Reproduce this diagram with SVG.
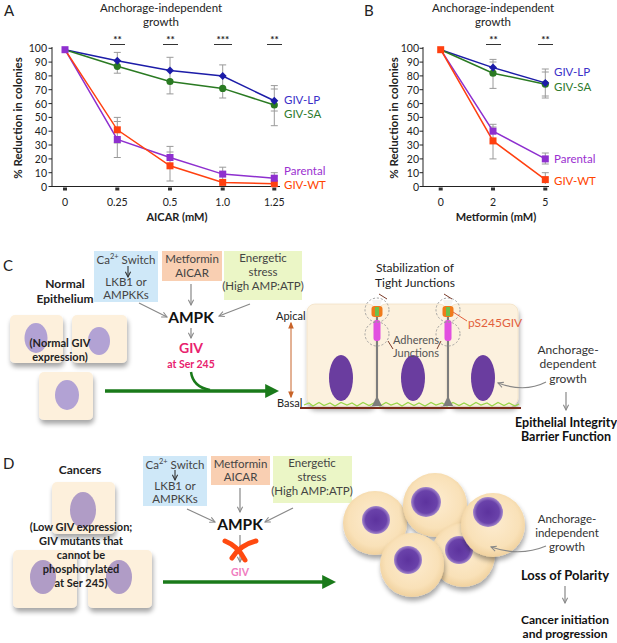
<svg xmlns="http://www.w3.org/2000/svg" width="617" height="643" viewBox="0 0 617 643">
<style>
text{font-family:Lato,"Open Sans","Liberation Sans",sans-serif;fill:#222}
.t{font-size:11.5px;text-anchor:middle}
.tick{font-size:10.5px;text-anchor:end}
.xt{font-size:10.5px;text-anchor:middle}
.b{font-weight:bold}
.box{font-size:11.5px;text-anchor:middle;fill:#444}
.ax{stroke:#222;stroke-width:1;fill:none}
.err{stroke:#9a9a9a;stroke-width:1;fill:none}
.sig{stroke:#333;stroke-width:1}
.ga{stroke:#888;stroke-width:1.2;fill:none;marker-end:url(#oa)}
.cellL{fill:#fdf0dc;filter:url(#sh)}
.cellC{fill:#fcf1de;stroke:#f3e2c6;stroke-width:0.8;filter:url(#sh)}
.nucL{fill:#b2a2d4}
.nucD{fill:#b09cc6}
.nucE{fill:#6a3d9f}
.dash{fill:none;stroke:#9a9a9a;stroke-width:0.9;stroke-dasharray:2.2,1.8}
.lead{stroke:#7a3a28;stroke-width:1;fill:none}
.rc{fill:url(#rc);filter:url(#sh)}
.rn{fill:url(#rn)}
</style>
<defs>
<marker id="oa" viewBox="0 0 8 8" refX="7" refY="4" markerWidth="7" markerHeight="7" markerUnits="userSpaceOnUse" orient="auto"><path d="M1,1 L7,4 L1,7" fill="none" stroke="#888" stroke-width="1.2"/></marker>
<marker id="da" viewBox="0 0 8 8" refX="7" refY="4" markerWidth="7" markerHeight="7" markerUnits="userSpaceOnUse" orient="auto"><path d="M1,1 L7,4 L1,7" fill="none" stroke="#333" stroke-width="1.2"/></marker>
<marker id="ga" viewBox="0 0 10 10" refX="2" refY="5" markerWidth="4" markerHeight="4" orient="auto"><path d="M0,0 L10,5 L0,10 z" fill="#1a7a1a"/></marker>
<marker id="br" viewBox="0 0 10 10" refX="8" refY="5" markerWidth="7" markerHeight="7" markerUnits="userSpaceOnUse" orient="auto-start-reverse"><path d="M0,1 L10,5 L0,9 z" fill="#c8642a"/></marker>
<filter id="sh" x="-20%" y="-20%" width="150%" height="150%"><feGaussianBlur in="SourceAlpha" stdDeviation="2.5"/><feOffset dx="1" dy="4"/><feComponentTransfer><feFuncA type="linear" slope="0.35"/></feComponentTransfer><feMerge><feMergeNode/><feMergeNode in="SourceGraphic"/></feMerge></filter>
<radialGradient id="rc" cx="50%" cy="45%" r="55%"><stop offset="0" stop-color="#fdecd0"/><stop offset="0.75" stop-color="#f9e1b8"/><stop offset="1" stop-color="#f0d19e"/></radialGradient>
<radialGradient id="rn"><stop offset="0" stop-color="#5d339e"/><stop offset="0.75" stop-color="#6a42aa"/><stop offset="1" stop-color="#a488cc"/></radialGradient>
</defs>

<!-- ================= Panel A ================= -->
<g id="panelA">
<text x="4" y="16" style="font-size:15px">A</text>
<text class="t" x="161" y="12">Anchorage-independent</text>
<text class="t" x="161" y="26">growth</text>
<text class="b" transform="translate(22,118) rotate(-90)" style="font-size:11.5px;text-anchor:middle">% Reduction in colonies</text>
<path class="ax" d="M52,47 V186.5 H280"/>
<g class="ax">
<path d="M48.5,48.3 H52 M48.5,62.1 H52 M48.5,75.9 H52 M48.5,89.7 H52 M48.5,103.6 H52 M48.5,117.4 H52 M48.5,131.2 H52 M48.5,145 H52 M48.5,158.9 H52 M48.5,172.7 H52 M48.5,186.5 H52"/>
</g>
<g class="tick">
<text x="47" y="52">100</text><text x="47" y="66">90</text><text x="47" y="80">80</text><text x="47" y="93.5">70</text><text x="47" y="107.5">60</text><text x="47" y="121">50</text><text x="47" y="135">40</text><text x="47" y="149">30</text><text x="47" y="163">20</text><text x="47" y="176.5">10</text><text x="47" y="190.5">0</text>
</g>
<g fill="#333"><rect x="63" y="187.5" width="4" height="3"/><rect x="115.3" y="187.5" width="4" height="3"/><rect x="168" y="187.5" width="4" height="3"/><rect x="220.7" y="187.5" width="4" height="3"/><rect x="272.3" y="187.5" width="4" height="3"/></g>
<g class="xt"><text x="65" y="206">0</text><text x="117.3" y="206">0.25</text><text x="170" y="206">0.5</text><text x="222.7" y="206">1.0</text><text x="274.3" y="206">1.25</text></g>
<text class="b" x="177" y="221" style="font-size:11px;text-anchor:middle">AICAR (mM)</text>
<g class="sig"><line x1="110" y1="44.5" x2="125" y2="44.5"/><line x1="163" y1="44.5" x2="178" y2="44.5"/><line x1="214" y1="44.5" x2="232" y2="44.5"/><line x1="267" y1="44.5" x2="282" y2="44.5"/></g>
<g style="font-size:10px;text-anchor:middle;font-weight:bold"><text x="117.5" y="43">**</text><text x="170.5" y="43">**</text><text x="223" y="43">***</text><text x="274.5" y="43">**</text></g>
<g class="err">
<path d="M117.3,52.4 V73.2 M113.8,52.4 H120.8 M113.8,73.2 H120.8"/>
<path d="M170,57.3 V93.9 M166.5,57.3 H173.5 M166.5,93.9 H173.5"/>
<path d="M222.7,64.9 V98 M219.2,64.9 H226.2 M219.2,98 H226.2"/>
<path d="M274.3,85.6 V125.7 M270.8,85.6 H277.8 M270.8,125.7 H277.8 M270.8,89 H277.8 M270.8,111 H277.8"/>
<path d="M117.3,117.4 V157.5 M113.8,117.4 H120.8 M113.8,157.5 H120.8 M113.8,121.5 H120.8 M113.8,143 H120.8"/>
<path d="M170,146.4 V181 M166.5,146.4 H173.5 M166.5,181 H173.5 M166.5,152 H173.5"/>
<path d="M222.7,167.2 V183 M219.2,167.2 H226.2 M219.2,172 H226.2"/>
<path d="M274.3,172.7 V184 M270.8,172.7 H277.8 M270.8,176 H277.8"/>
</g>
<polyline fill="none" stroke="#1c1ca8" stroke-width="1.5" points="65,49.7 117.3,60.7 170,70.4 222.7,76 274.3,100.8"/>
<polyline fill="none" stroke="#2a7a22" stroke-width="1.5" points="65,49.7 117.3,66.3 170,81.5 222.7,88.4 274.3,105"/>
<polyline fill="none" stroke="#8e2fcf" stroke-width="1.5" points="65,49.7 117.3,139.5 170,157.5 222.7,174.1 274.3,178.2"/>
<polyline fill="none" stroke="#ff4010" stroke-width="1.5" points="65,49.7 117.3,129.8 170,165.8 222.7,182.4 274.3,183.7"/>
<g fill="#2a7a22"><circle cx="117.3" cy="66.3" r="3.6"/><circle cx="170" cy="81.5" r="3.6"/><circle cx="222.7" cy="88.4" r="3.6"/><circle cx="274.3" cy="105" r="3.6"/></g>
<g fill="#1c1ca8"><path d="M117.3,56.7 l4,4 l-4,4 l-4,-4z M170,66.4 l4,4 l-4,4 l-4,-4z M222.7,72 l4,4 l-4,4 l-4,-4z M274.3,96.8 l4,4 l-4,4 l-4,-4z"/></g>
<g fill="#ff4010"><rect x="113.8" y="126.3" width="7" height="7"/><rect x="166.5" y="162.3" width="7" height="7"/><rect x="219.2" y="178.9" width="7" height="7"/><rect x="270.8" y="180.2" width="7" height="7"/></g>
<g fill="#8e2fcf"><rect x="61.5" y="46.2" width="7" height="7"/><rect x="113.8" y="136" width="7" height="7"/><rect x="166.5" y="154" width="7" height="7"/><rect x="219.2" y="170.6" width="7" height="7"/><rect x="270.8" y="174.7" width="7" height="7"/></g>
<g style="font-size:11.5px"><text x="284" y="104" style="fill:#3a2fc8">GIV-LP</text><text x="284" y="118" style="fill:#2e7a2e">GIV-SA</text><text x="284" y="175" style="fill:#9b30d0">Parental</text><text x="284" y="189" style="fill:#ff4400">GIV-WT</text></g>
</g>

<!-- ================= Panel B ================= -->
<g id="panelB">
<text x="364" y="16" style="font-size:15px">B</text>
<text class="t" x="493" y="12">Anchorage-independent</text>
<text class="t" x="493" y="26">growth</text>
<text class="b" transform="translate(398,118) rotate(-90)" style="font-size:11.5px;text-anchor:middle">% Reduction in colonies</text>
<path class="ax" d="M423,47 V186.5 H549"/>
<g class="ax">
<path d="M419.5,48.3 H423 M419.5,62.1 H423 M419.5,75.9 H423 M419.5,89.7 H423 M419.5,103.6 H423 M419.5,117.4 H423 M419.5,131.2 H423 M419.5,145 H423 M419.5,158.9 H423 M419.5,172.7 H423 M419.5,186.5 H423"/>
</g>
<g class="tick">
<text x="419" y="52">100</text><text x="419" y="66">90</text><text x="419" y="80">80</text><text x="419" y="93.5">70</text><text x="419" y="107.5">60</text><text x="419" y="121">50</text><text x="419" y="135">40</text><text x="419" y="149">30</text><text x="419" y="163">20</text><text x="419" y="176.5">10</text><text x="419" y="190.5">0</text>
</g>
<g fill="#333"><rect x="438.7" y="187.5" width="4" height="3"/><rect x="491" y="187.5" width="4" height="3"/><rect x="543.3" y="187.5" width="4" height="3"/></g>
<g class="xt"><text x="440.7" y="206">0</text><text x="493" y="206">2</text><text x="545.3" y="206">5</text></g>
<text class="b" x="496" y="221" style="font-size:11px;text-anchor:middle">Metformin (mM)</text>
<g class="sig"><line x1="486" y1="44.5" x2="501" y2="44.5"/><line x1="538" y1="44.5" x2="553" y2="44.5"/></g>
<g style="font-size:10px;text-anchor:middle;font-weight:bold"><text x="493.5" y="43">**</text><text x="545.5" y="43">**</text></g>
<g class="err">
<path d="M493,59.4 V88.4 M489.5,59.4 H496.5 M489.5,88.4 H496.5 M489.5,62 H496.5"/>
<path d="M545.3,69 V98 M541.8,69 H548.8 M541.8,98 H548.8 M541.8,72 H548.8 M541.8,96 H548.8"/>
<path d="M493,124.3 V158.9 M489.5,124.3 H496.5 M489.5,158.9 H496.5 M489.5,127 H496.5"/>
<path d="M545.3,153 V164 M541.8,153 H548.8 M541.8,164 H548.8 M545.3,172.7 V184 M541.8,172.7 H548.8"/>
</g>
<polyline fill="none" stroke="#1c1ca8" stroke-width="1.5" points="440.7,49.7 493,67.6 545.3,82.9"/>
<polyline fill="none" stroke="#2a7a22" stroke-width="1.5" points="440.7,49.7 493,73.2 545.3,84.2"/>
<polyline fill="none" stroke="#8e2fcf" stroke-width="1.5" points="440.7,49.7 493,131.2 545.3,158.9"/>
<polyline fill="none" stroke="#ff4010" stroke-width="1.5" points="440.7,49.7 493,140.9 545.3,179.6"/>
<g fill="#2a7a22"><circle cx="493" cy="73.2" r="3.6"/><circle cx="545.3" cy="84.2" r="3.6"/></g>
<g fill="#1c1ca8"><path d="M493,63.6 l4,4 l-4,4 l-4,-4z M545.3,78.9 l4,4 l-4,4 l-4,-4z"/></g>
<g fill="#8e2fcf"><rect x="489.5" y="127.7" width="7" height="7"/><rect x="541.8" y="155.4" width="7" height="7"/></g>
<g fill="#ff4010"><rect x="437.2" y="46.2" width="7" height="7"/><rect x="489.5" y="137.4" width="7" height="7"/><rect x="541.8" y="176.1" width="7" height="7"/></g>
<g style="font-size:11.5px"><text x="554" y="76" style="fill:#3a2fc8">GIV-LP</text><text x="554" y="91" style="fill:#2e7a2e">GIV-SA</text><text x="554" y="163" style="fill:#9b30d0">Parental</text><text x="554" y="185" style="fill:#ff4400">GIV-WT</text></g>
</g>

<!-- ================= Panel C ================= -->
<text x="3" y="271" style="font-size:15px">C</text>
<g id="C-normal">
<text class="b" x="65" y="288" style="font-size:12px;text-anchor:middle">Normal</text>
<text class="b" x="65" y="303" style="font-size:12px;text-anchor:middle">Epithelium</text>
<rect class="cellL" x="10" y="315" width="53" height="48" rx="5"/>
<rect class="cellL" x="72" y="315" width="55" height="48" rx="5"/>
<rect class="cellL" x="39" y="372" width="54" height="48" rx="5"/>
<ellipse class="nucL" cx="36" cy="338" rx="11.5" ry="15"/>
<ellipse class="nucL" cx="99" cy="341" rx="11" ry="14"/>
<ellipse class="nucL" cx="67" cy="395" rx="12" ry="15"/>
<text class="b" x="60" y="347" style="font-size:11px;text-anchor:middle">(Normal GIV</text>
<text class="b" x="60" y="361" style="font-size:11px;text-anchor:middle">expression)</text>
</g>
<g id="C-ca">
<rect x="94" y="251" width="64" height="51" fill="#cfe8f8"/>
<text class="box" x="126" y="264">Ca<tspan font-size="7.5" dy="-5">2+</tspan><tspan dy="5"> Switch</tspan></text>
<text class="box" x="126" y="286">LKB1 or</text>
<text class="box" x="126" y="299">AMPKKs</text>
</g>
<g id="C-met">
<rect x="162" y="251" width="60" height="30" fill="#f9cfb2"/>
<text class="box" x="192" y="263">Metformin</text>
<text class="box" x="192" y="277">AICAR</text>
</g>
<g id="C-energy">
<rect x="224" y="251" width="78" height="49" fill="#ebf6c6"/>
<text class="box" x="263" y="262">Energetic</text>
<text class="box" x="263" y="276">stress</text>
<text class="box" x="263" y="290">(High AMP:ATP)</text>
</g>
<g id="C-ampk"><text class="b" x="191" y="323" style="font-size:15.5px;text-anchor:middle;fill:#111">AMPK</text></g>
<g id="C-giv">
<text class="b" x="191" y="353" style="font-size:14px;text-anchor:middle;fill:#e8226e">GIV</text>
<text class="b" x="191" y="368" style="font-size:10.5px;text-anchor:middle;fill:#e8226e">at Ser 245</text>
</g>
<g id="C-epithelium">
<rect class="cellC" x="307" y="304" width="69" height="102" rx="8"/>
<rect class="cellC" x="378" y="304" width="69" height="102" rx="8"/>
<rect class="cellC" x="449" y="304" width="69" height="102" rx="8"/>
<line x1="300" y1="408" x2="521" y2="408" stroke="#7a2a1a" stroke-width="2"/>
<polyline fill="none" stroke="#9ad64a" stroke-width="1.3" points="304,405 309,403 313,406 319,402.5 324,405.5 330,403 335,406 341,402.5 347,405 352,403 357,406 363,402.5 369,405.5 374,403 380,406 386,402.5 391,405 397,403 402,406 408,402.5 414,405.5 419,403 425,406 431,402.5 436,405 442,403 447,406 453,402.5 459,405.5 464,403 470,406 476,402.5 481,405 487,403 492,406 498,402.5 504,405.5 509,403 515,406 519,404"/>
<ellipse class="nucE" cx="341" cy="378" rx="12" ry="23"/>
<ellipse class="nucE" cx="413" cy="378" rx="12" ry="23"/>
<ellipse class="nucE" cx="483" cy="378" rx="12" ry="23"/>
<g id="junction1">
<path d="M376,312 V398 L372,406 H382 L378,398 V312 z" fill="#7d7d7d"/>
<path d="M372,300 h10 l-2,7 h-6 z" fill="#f4f4f4"/>
<rect x="371.5" y="306" width="11" height="11" rx="3" fill="#f07a1a"/>
<rect x="375" y="307" width="4" height="9" fill="#6cc04a"/>
<rect x="373.5" y="320" width="7" height="21" rx="3" fill="#e24fe0"/>
<circle class="dash" cx="377" cy="310" r="12"/>
<circle class="dash" cx="377" cy="334" r="12"/>
</g>
<g id="junction2">
<path d="M447,312 V398 L443,406 H453 L449,398 V312 z" fill="#7d7d7d"/>
<path d="M443,300 h10 l-2,7 h-6 z" fill="#f4f4f4"/>
<rect x="442.5" y="306" width="11" height="11" rx="3" fill="#f07a1a"/>
<rect x="446" y="307" width="4" height="9" fill="#6cc04a"/>
<rect x="444.5" y="320" width="7" height="21" rx="3" fill="#e24fe0"/>
<circle class="dash" cx="448" cy="310" r="12"/>
<circle class="dash" cx="448" cy="334" r="12"/>
</g>
<path class="lead" d="M379,294 L387,299 M444,294 L452,299 M388,341 L393,349 M441,341 L437,349"/>
<line x1="453" y1="312" x2="467" y2="321" stroke="#e2603c" stroke-width="1"/>
<text x="415" y="272" style="font-size:12px;text-anchor:middle">Stabilization of</text>
<text x="415" y="287" style="font-size:12px;text-anchor:middle">Tight Junctions</text>
<text x="468" y="327" style="font-size:12px;fill:#e2603c">pS245GIV</text>
<text x="416" y="344" style="font-size:11px;text-anchor:middle;fill:#555">Adherens</text>
<text x="416" y="357" style="font-size:11px;text-anchor:middle;fill:#555">Junctions</text>
</g>
<g id="C-polarity">
<text x="276" y="320" style="font-size:11px">Apical</text>
<text x="277" y="407" style="font-size:11px">Basal</text>
</g>
<g id="C-outcome">
<text x="568" y="354" style="font-size:12px;text-anchor:middle;fill:#333">Anchorage-</text>
<text x="568" y="368" style="font-size:12px;text-anchor:middle;fill:#333">dependent</text>
<text x="568" y="383" style="font-size:12px;text-anchor:middle;fill:#333">growth</text>
<text class="b" x="566" y="427" style="font-size:12.5px;text-anchor:middle;fill:#111">Epithelial Integrity</text>
<text class="b" x="566" y="441" style="font-size:12.5px;text-anchor:middle;fill:#111">Barrier Function</text>
</g>

<!-- ================= Panel D ================= -->
<text x="3" y="469" style="font-size:15px">D</text>
<g id="D-cancer">
<text class="b" x="80" y="474" style="font-size:12px;text-anchor:middle">Cancers</text>
<rect class="cellL" x="52" y="482" width="63" height="52" rx="5"/>
<rect class="cellL" x="13" y="550" width="64" height="58" rx="5"/>
<rect class="cellL" x="88" y="550" width="64" height="58" rx="5"/>
<ellipse class="nucD" cx="83" cy="510" rx="13" ry="18"/>
<ellipse class="nucD" cx="43" cy="577" rx="13" ry="17"/>
<ellipse class="nucD" cx="119" cy="577" rx="13" ry="17"/>
<g style="font-size:11px;font-weight:bold;text-anchor:middle">
<text x="81" y="531">(Low GIV expression;</text>
<text x="81" y="545">GIV mutants that</text>
<text x="81" y="559">cannot be</text>
<text x="81" y="573">phosphorylated</text>
<text x="81" y="587">at Ser 245)</text>
</g>
</g>
<g id="D-ca">
<rect x="143" y="456" width="64" height="50" fill="#cfe8f8"/>
<text class="box" x="175" y="469">Ca<tspan font-size="7.5" dy="-5">2+</tspan><tspan dy="5"> Switch</tspan></text>
<text class="box" x="175" y="490">LKB1 or</text>
<text class="box" x="175" y="503">AMPKKs</text>
</g>
<g id="D-met">
<rect x="211" y="456" width="59" height="29" fill="#f9cfb2"/>
<text class="box" x="240.5" y="468">Metformin</text>
<text class="box" x="240.5" y="481">AICAR</text>
</g>
<g id="D-energy">
<rect x="273" y="456" width="79" height="47" fill="#ebf6c6"/>
<text class="box" x="312" y="467">Energetic</text>
<text class="box" x="312" y="481">stress</text>
<text class="box" x="312" y="495">(High AMP:ATP)</text>
</g>
<g id="D-ampk"><text class="b" x="240" y="530" style="font-size:15.5px;text-anchor:middle;fill:#111">AMPK</text></g>
<g id="D-giv"><text class="b" x="240" y="576" style="font-size:10.5px;text-anchor:middle;fill:#f07cc0">GIV</text></g>
<g id="D-cells">
<circle class="rc" cx="375" cy="523" r="32"/><circle class="rn" cx="376" cy="520" r="14"/>
<circle class="rc" cx="435" cy="505" r="32"/><circle class="rn" cx="426" cy="502" r="15"/>
<circle class="rc" cx="463" cy="555" r="32"/><circle class="rn" cx="459" cy="550" r="14"/>
<circle class="rc" cx="412" cy="565" r="32"/><circle class="rn" cx="408" cy="560" r="14"/>
<circle class="rc" cx="493" cy="525" r="32"/><circle class="rn" cx="488" cy="512" r="15"/>
</g>
<g id="D-outcome">
<text x="567" y="523" style="font-size:11.5px;text-anchor:middle;fill:#333">Anchorage-</text>
<text x="567" y="537" style="font-size:11.5px;text-anchor:middle;fill:#333">independent</text>
<text x="567" y="551" style="font-size:11.5px;text-anchor:middle;fill:#333">growth</text>
<text class="b" x="565" y="580" style="font-size:13px;text-anchor:middle;fill:#111">Loss of Polarity</text>
<text class="b" x="565" y="624" style="font-size:12px;text-anchor:middle;fill:#111">Cancer initiation</text>
<text class="b" x="565" y="638" style="font-size:12px;text-anchor:middle;fill:#111">and progression</text>
</g>

<!-- ================= Connectors ================= -->
<g id="connectors">
<line x1="128" y1="266" x2="128" y2="277" stroke="#333" stroke-width="1.1" marker-end="url(#da)"/>
<line class="ga" x1="139" y1="303" x2="167" y2="317"/>
<line class="ga" x1="191" y1="284" x2="191" y2="305"/>
<line class="ga" x1="250" y1="304" x2="219" y2="316"/>
<line class="ga" x1="191" y1="328" x2="191" y2="338"/>
<line x1="105" y1="391" x2="268" y2="391" stroke="#1a7a1a" stroke-width="3.5" marker-end="url(#ga)"/>
<path d="M191,372 Q193,387 210,390" fill="none" stroke="#1a7a1a" stroke-width="2.5"/>
<line x1="291" y1="323" x2="291" y2="397" stroke="#c8642a" stroke-width="1" marker-start="url(#br)" marker-end="url(#br)"/>
<path class="ga" d="M546,382 Q525,393 498,383"/>
<line class="ga" x1="566" y1="392" x2="566" y2="410"/>
<line x1="175" y1="470" x2="175" y2="480" stroke="#333" stroke-width="1.1" marker-end="url(#da)"/>
<line class="ga" x1="187" y1="509" x2="215" y2="522"/>
<line class="ga" x1="240" y1="488" x2="240" y2="512"/>
<line class="ga" x1="293" y1="508" x2="265" y2="522"/>
<line class="ga" x1="240" y1="535" x2="240" y2="562"/>
<path d="M225,541 Q238,546 245,560" fill="none" stroke="#ff4a10" stroke-width="5" stroke-linecap="round"/>
<path d="M256,541 Q240,545 232,558" fill="none" stroke="#ff4a10" stroke-width="5" stroke-linecap="round"/>
<line x1="163" y1="582" x2="325" y2="582" stroke="#1a7a1a" stroke-width="3.5" marker-end="url(#ga)"/>
<path class="ga" d="M546,546 Q520,557 491,547"/>
<line class="ga" x1="565" y1="586" x2="565" y2="603"/>
</g>
</svg>
